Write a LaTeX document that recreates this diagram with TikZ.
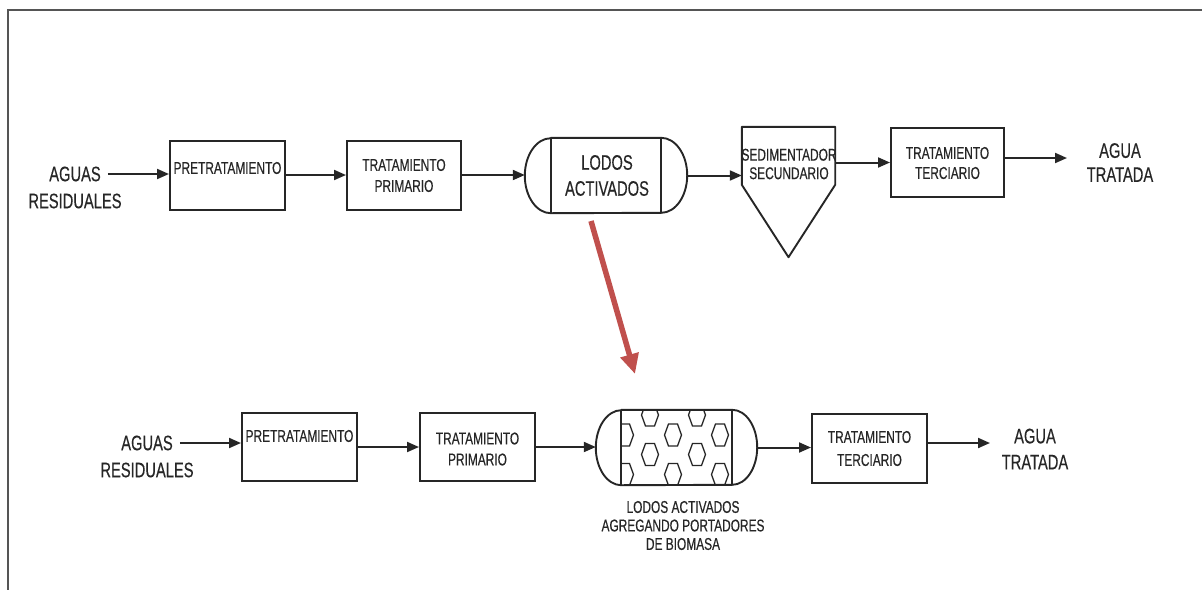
\documentclass[tikz,border=0pt]{standalone}
\usepackage{fontspec}
\newfontfamily\labfont[FakeStretch=0.7,FakeBold=0.4]{Liberation Sans}
\usetikzlibrary{arrows.meta}
\definecolor{ink}{HTML}{262626}
\definecolor{framegray}{HTML}{555555}
\definecolor{flowred}{HTML}{C0504D}

\begin{document}
\begin{tikzpicture}[x=1pt,y=-1pt,
  big/.style={font=\labfont\fontsize{21}{26}\selectfont, text=ink, inner sep=2pt, align=center},
  small/.style={font=\labfont\fontsize{17}{21}\selectfont, text=ink, inner sep=0pt, align=center},
  tight/.style={font=\labfont\fontsize{17}{18.5}\selectfont, text=ink, inner sep=0pt, align=center},
  unitbox/.style={draw=ink, line width=2pt, inner sep=0pt, minimum height=69pt},
  shell/.style={inner sep=0pt, minimum width=162pt, minimum height=75pt},
  outline/.style={draw=ink, line width=1.9pt, line join=round},
  flow/.style={draw=ink, line width=2pt, -{Triangle[length=12pt,width=10pt]}},
  hexline/.style={draw=ink, line width=1.3pt},
]
\useasboundingbox (0,0) rectangle (1202,590);

% page frame (top and left edges only)
\draw[framegray, line width=2pt] (1202,10) -- (8,10) -- (8,590);

% ---------------- conventional line ----------------
\node[big] (inA) at (75,174) {AGUAS};
\node[big] (inA2) at (75,201) {RESIDUALES};

\node[unitbox, minimum width=115pt] (pre) at (227.5,175) {};
\node[small] (preT) at (227.5,168) {PRETRATAMIENTO};

\node[unitbox, minimum width=114pt] (prim) at (404,175) {};
\node[small] (primT) at (404,175.5) {TRATAMIENTO\\PRIMARIO};

% activated sludge reactor: capsule outline
\node[shell] (lodos) at (606,175.5) {};
\draw[outline] ([xshift=26pt]lodos.north west) -- ([xshift=-26pt]lodos.north east)
  arc[start angle=90, end angle=-90, x radius=26pt, y radius=37.5pt]
  -- ([xshift=26pt]lodos.south west)
  arc[start angle=270, end angle=90, x radius=26pt, y radius=37.5pt] -- cycle;
\draw[outline] ([xshift=26pt]lodos.north west) -- ([xshift=26pt]lodos.south west);
\draw[outline] ([xshift=-26pt]lodos.north east) -- ([xshift=-26pt]lodos.south east);
\node[big] (lodosT) at (607,175.5) {LODOS\\ACTIVADOS};

% secondary clarifier: box with conical bottom
\node[inner sep=0pt, minimum width=93pt, minimum height=130pt] (sed) at (788.5,192) {};
\draw[outline] (sed.north west) -- (sed.north east) -- ([yshift=-58pt]sed.north east)
  -- (sed.south) -- ([yshift=-58pt]sed.north west) -- cycle;
\node[tight] (sedT) at (789,164) {SEDIMENTADOR\\SECUNDARIO};

\node[unitbox, minimum width=113pt] (terc) at (947.5,162.5) {};
\node[small, font=\labfont\fontsize{17}{20}\selectfont] (tercT) at (947.5,163) {TRATAMIENTO\\TERCIARIO};

\coordinate (outA) at (1067,158);
\node[big, font=\labfont\fontsize{21}{24}\selectfont] (aguaT) at (1120,162.5) {AGUA\\TRATADA};

\draw[flow] ([xshift=5pt]inA.east) -- (pre.west |- inA.east);
\draw[flow] (pre.east) -- (prim.west);
\draw[flow] (prim.east) -- (prim.east -| lodos.west);
\draw[flow] (lodos.east) -- (lodos.east -| sed.west);
\draw[flow] (terc.west -| sed.east) -- (terc.west);
\draw[flow] (terc.east |- outA) -- (outA);

% ---------------- upgraded line ----------------
\coordinate (redA) at (591,221);
\coordinate (redB) at (635,374);
\draw[flowred, line width=5.5pt, -{Triangle[length=20pt,width=18pt]}] (redA) -- (redB);

\node[big] (inB) at (147,443) {AGUAS};
\node[big] (inB2) at (147,470) {RESIDUALES};

\node[unitbox, minimum width=115pt, minimum height=68pt] (pre2) at (299.5,447) {};
\node[small] (pre2T) at (299.5,436) {PRETRATAMIENTO};

\node[unitbox, minimum width=115pt, minimum height=68pt] (prim2) at (477.5,447) {};
\node[small] (prim2T) at (477.5,449) {TRATAMIENTO\\PRIMARIO};

% reactor with biomass carriers
\node[shell, minimum width=161pt] (bio) at (676.5,447.5) {};
\begin{scope}
  \clip ([xshift=25.5pt]bio.north west) rectangle ([xshift=-25pt]bio.south east);
  \foreach \cx/\cy in {650/415, 697/415,
                       625/435, 673/435, 720/435,
                       650/454.5, 697/454.5,
                       625/474.5, 673/474.5, 720/474.5}{
    \draw[hexline] ({\cx-4.5},{\cy-11}) -- ({\cx+4.5},{\cy-11}) -- ({\cx+8.5},\cy)
      -- ({\cx+4.5},{\cy+11}) -- ({\cx-4.5},{\cy+11}) -- ({\cx-8.5},\cy) -- cycle;
  }
\end{scope}
\draw[outline] ([xshift=25.5pt]bio.north west) -- ([xshift=-25pt]bio.north east)
  arc[start angle=90, end angle=-90, x radius=25pt, y radius=37.5pt]
  -- ([xshift=25.5pt]bio.south west)
  arc[start angle=270, end angle=90, x radius=25.5pt, y radius=37.5pt] -- cycle;
\draw[outline] ([xshift=25.5pt]bio.north west) -- ([xshift=25.5pt]bio.south west);
\draw[outline] ([xshift=-25pt]bio.north east) -- ([xshift=-25pt]bio.south east);
\node[tight] (bioT) at (683,525.5) {LODOS ACTIVADOS\\AGREGANDO PORTADORES\\DE BIOMASA};

\node[unitbox, minimum width=115pt, minimum height=69pt] (terc2) at (869.5,448.5) {};
\node[small, font=\labfont\fontsize{17}{23}\selectfont] (terc2T) at (869.5,448.5) {TRATAMIENTO\\TERCIARIO};

\coordinate (outB) at (990,443);
\node[big] (agua2T) at (1035,449) {AGUA\\TRATADA};

\draw[flow] ([xshift=5pt]inB.east) -- (pre2.west |- inB.east);
\draw[flow] (pre2.east) -- (prim2.west);
\draw[flow] (prim2.east) -- (prim2.east -| bio.west);
\draw[flow] (bio.east) -- (bio.east -| terc2.west);
\draw[flow] (terc2.east |- outB) -- (outB);
\end{tikzpicture}
\end{document}
